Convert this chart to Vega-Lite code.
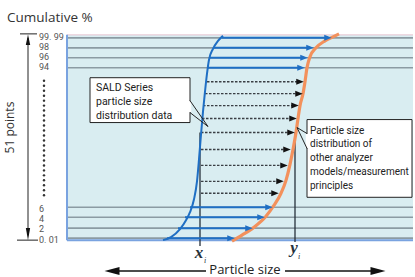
{
  "$schema": "https://vega.github.io/schema/vega-lite/v6.json",
  "width": 415,
  "height": 277,
  "autosize": {"type": "fit", "contains": "padding"},
  "padding": 0,
  "background": "white",
  "config": {"view": {"stroke": null}},
  "datasets": {
    "panel": [{"x": 67, "x2": 413, "y": 35, "y2": 241}],
    "grid": [
      {"x": 67, "x2": 413, "y": 38}, {"x": 67, "x2": 413, "y": 48}, {"x": 67, "x2": 413, "y": 58}, {"x": 67, "x2": 413, "y": 68},
      {"x": 67, "x2": 413, "y": 208}, {"x": 67, "x2": 413, "y": 218}, {"x": 67, "x2": 413, "y": 229}, {"x": 67, "x2": 413, "y": 239}
    ],
    "borderH": [{"x": 67, "x2": 413, "y": 241}],
    "borderTop": [{"x": 67, "x2": 413, "y": 35}],
    "borderV": [{"x": 67, "y": 35, "y2": 241}],
    "blue": [
      {"o": 1, "x": 163, "y": 241}, {"o": 2, "x": 171, "y": 238}, {"o": 3, "x": 180, "y": 230}, {"o": 4, "x": 186, "y": 221},
      {"o": 5, "x": 190, "y": 213}, {"o": 6, "x": 194, "y": 200}, {"o": 7, "x": 197, "y": 182}, {"o": 8, "x": 199, "y": 160},
      {"o": 9, "x": 201, "y": 135}, {"o": 10, "x": 203, "y": 112}, {"o": 11, "x": 205, "y": 92}, {"o": 12, "x": 207, "y": 74},
      {"o": 13, "x": 209, "y": 60}, {"o": 14, "x": 213, "y": 49}, {"o": 15, "x": 218, "y": 41}, {"o": 16, "x": 223, "y": 36}
    ],
    "orange": [
      {"o": 1, "x": 232, "y": 242}, {"o": 2, "x": 242, "y": 236}, {"o": 3, "x": 254, "y": 228}, {"o": 4, "x": 266, "y": 217},
      {"o": 5, "x": 274, "y": 206}, {"o": 6, "x": 281, "y": 194}, {"o": 7, "x": 286, "y": 181}, {"o": 8, "x": 290, "y": 165},
      {"o": 9, "x": 293, "y": 150}, {"o": 10, "x": 296, "y": 133}, {"o": 11, "x": 298, "y": 119}, {"o": 12, "x": 300, "y": 106},
      {"o": 13, "x": 303, "y": 94}, {"o": 14, "x": 305, "y": 82}, {"o": 15, "x": 307, "y": 68}, {"o": 16, "x": 310, "y": 57},
      {"o": 17, "x": 316, "y": 48}, {"o": 18, "x": 325, "y": 41}, {"o": 19, "x": 333, "y": 37}, {"o": 20, "x": 339, "y": 34}
    ],
    "blueArrows": [
      {"x": 222, "x2": 328, "y": 38}, {"x": 214, "x2": 310, "y": 48}, {"x": 210, "x2": 304, "y": 58}, {"x": 208, "x2": 301, "y": 68},
      {"x": 190, "x2": 269, "y": 208}, {"x": 185, "x2": 261, "y": 218}, {"x": 178, "x2": 249, "y": 229}, {"x": 167, "x2": 231, "y": 239}
    ],
    "dotArrows": [
      {"x": 207, "x2": 300, "y": 82}, {"x": 205, "x2": 299, "y": 94}, {"x": 203, "x2": 295, "y": 106}, {"x": 202, "x2": 293, "y": 119},
      {"x": 201, "x2": 291, "y": 133}, {"x": 201, "x2": 287, "y": 150}, {"x": 201, "x2": 284, "y": 166}, {"x": 201, "x2": 280, "y": 182},
      {"x": 201, "x2": 275, "y": 194}
    ],
    "vlines": [{"x": 200, "y": 133, "y2": 247}, {"x": 295, "y": 133, "y2": 243}],
    "dots": [
      {"x": 44, "y": 81}, {"x": 44, "y": 86}, {"x": 44, "y": 91}, {"x": 44, "y": 96}, {"x": 44, "y": 101}, {"x": 44, "y": 106},
      {"x": 44, "y": 111}, {"x": 44, "y": 116}, {"x": 44, "y": 121}, {"x": 44, "y": 126}, {"x": 44, "y": 131}, {"x": 44, "y": 136},
      {"x": 44, "y": 141}, {"x": 44, "y": 146}, {"x": 44, "y": 151}, {"x": 44, "y": 156}, {"x": 44, "y": 161}, {"x": 44, "y": 166},
      {"x": 44, "y": 171}, {"x": 44, "y": 176}, {"x": 44, "y": 181}, {"x": 44, "y": 186}, {"x": 44, "y": 191}, {"x": 44, "y": 196}
    ],
    "ylabels": [
      {"x": 39, "y": 37, "t": "99. 99"}, {"x": 39, "y": 47, "t": "98"}, {"x": 39, "y": 57, "t": "96"}, {"x": 39, "y": 67, "t": "94"},
      {"x": 39, "y": 210, "t": "6"}, {"x": 39, "y": 220, "t": "4"}, {"x": 39, "y": 230, "t": "2"}, {"x": 39, "y": 241, "t": "0. 01"}
    ],
    "leftLine": [{"x": 28, "y": 38, "y2": 236}],
    "leftTicks": [{"x": 20, "x2": 37, "y": 34}, {"x": 17, "x2": 38, "y": 241}],
    "headUp": [{"x": 28, "y": 40}],
    "headDown": [{"x": 28, "y": 235}],
    "bottomLine": [{"x": 112, "x2": 206, "y": 272}, {"x": 285, "x2": 378, "y": 272}],
    "headLeft": [{"x": 112, "y": 272}],
    "headRight": [{"x": 378, "y": 272}],
    "box1": [{"x": 90, "x2": 190, "y": 78, "y2": 123}],
    "box2": [{"x": 307, "x2": 412, "y": 120, "y2": 198}],
    "cover": [{"x": 190, "y": 101.5, "y2": 112.5}, {"x": 307, "y": 134.5, "y2": 148.5}],
    "ptr1": [{"o": 1, "x": 190, "y": 101}, {"o": 2, "x": 208, "y": 127}, {"o": 3, "x": 190, "y": 113}],
    "ptr2": [{"o": 1, "x": 307, "y": 134}, {"o": 2, "x": 297, "y": 128}, {"o": 3, "x": 307, "y": 149}],
    "box1text": [
      {"x": 96, "y": 88, "t": "SALD Series"}, {"x": 96, "y": 102, "t": "particle size"}, {"x": 96, "y": 116, "t": "distribution data"}
    ],
    "box2text": [
      {"x": 310, "y": 131, "t": "Particle size"}, {"x": 310, "y": 145, "t": "distribution of"}, {"x": 310, "y": 159, "t": "other analyzer"},
      {"x": 310, "y": 173, "t": "models/measurement"}, {"x": 310, "y": 187, "t": "principles"}
    ],
    "title": [{"x": 7, "y": 18, "t": "Cumulative %"}],
    "points51": [{"x": 10, "y": 128, "t": "51 points"}],
    "psize": [{"x": 245, "y": 271, "t": "Particle size"}],
    "xy": [{"x": 199, "y": 254, "t": "x"}, {"x": 294, "y": 249, "t": "y"}],
    "sub": [{"x": 205, "y": 262, "t": "i"}, {"x": 299, "y": 258, "t": "i"}]
  },
  "encoding": {
    "x": {"field": "x", "type": "quantitative", "scale": {"domain": [0, 415], "nice": false, "zero": false}, "axis": null},
    "y": {"field": "y", "type": "quantitative", "scale": {"domain": [0, 277], "nice": false, "zero": false, "reverse": true}, "axis": null}
  },
  "layer": [
    {"data": {"name": "panel"}, "mark": {"type": "rect", "color": "#d9edf1"}, "encoding": {"x2": {"field": "x2"}, "y2": {"field": "y2"}}},
    {"data": {"name": "grid"}, "mark": {"type": "rule", "color": "#8b9ba3", "strokeWidth": 1.6}, "encoding": {"x2": {"field": "x2"}}},
    {"data": {"name": "borderTop"}, "mark": {"type": "rule", "color": "#e9c6d2", "strokeWidth": 1}, "encoding": {"x2": {"field": "x2"}}},
    {"data": {"name": "borderH"}, "mark": {"type": "rule", "color": "#7aa3e0", "strokeWidth": 2}, "encoding": {"x2": {"field": "x2"}}},
    {"data": {"name": "borderV"}, "mark": {"type": "rule", "color": "#7aa3e0", "strokeWidth": 2}, "encoding": {"y2": {"field": "y2"}}},
    {"data": {"name": "vlines"}, "mark": {"type": "rule", "color": "#26313b", "strokeWidth": 1.3}, "encoding": {"y2": {"field": "y2"}}},
    {"data": {"name": "blueArrows"}, "mark": {"type": "rule", "color": "#1f6fc4", "strokeWidth": 2}, "encoding": {"x2": {"field": "x2"}}},
    {"data": {"name": "dotArrows"}, "mark": {"type": "rule", "color": "#3a3f44", "strokeWidth": 1.4, "strokeDash": [2.5, 1.5]}, "encoding": {"x2": {"field": "x2"}}},
    {"data": {"name": "blue"}, "mark": {"type": "line", "color": "#1f6fc4", "strokeWidth": 2, "interpolate": "monotone"}, "encoding": {"order": {"field": "o"}}},
    {"data": {"name": "orange"}, "mark": {"type": "line", "color": "#f3915c", "strokeWidth": 3.2, "interpolate": "monotone"}, "encoding": {"order": {"field": "o"}}},
    {"data": {"name": "blueArrows"}, "mark": {"type": "point", "shape": "M1,0L-1,-0.8L-1,0.8Z", "filled": true, "size": 56, "color": "#1f6fc4", "opacity": 1},
     "encoding": {"x": {"field": "x2", "type": "quantitative"}}},
    {"data": {"name": "dotArrows"}, "mark": {"type": "point", "shape": "M1,0L-1,-0.8L-1,0.8Z", "filled": true, "size": 56, "color": "#111111", "opacity": 1},
     "encoding": {"x": {"field": "x2", "type": "quantitative"}}},
    {"data": {"name": "dots"}, "mark": {"type": "point", "shape": "circle", "filled": true, "size": 6, "color": "#333333", "opacity": 1}, "encoding": {}},
    {"data": {"name": "ylabels"}, "mark": {"type": "text", "align": "left", "baseline": "middle", "font": "Roboto", "fontSize": 9, "color": "#555555"},
     "encoding": {"text": {"field": "t"}}},
    {"data": {"name": "leftLine"}, "mark": {"type": "rule", "color": "#222222", "strokeWidth": 1}, "encoding": {"y2": {"field": "y2"}}},
    {"data": {"name": "leftTicks"}, "mark": {"type": "rule", "color": "#222222", "strokeWidth": 1}, "encoding": {"x2": {"field": "x2"}}},
    {"data": {"name": "headUp"}, "mark": {"type": "point", "shape": "M0,-1L0.42,1L-0.42,1Z", "filled": true, "size": 110, "color": "#111111", "opacity": 1}, "encoding": {}},
    {"data": {"name": "headDown"}, "mark": {"type": "point", "shape": "M0,1L0.35,-1L-0.35,-1Z", "filled": true, "size": 150, "color": "#111111", "opacity": 1}, "encoding": {}},
    {"data": {"name": "bottomLine"}, "mark": {"type": "rule", "color": "#111111", "strokeWidth": 1.5}, "encoding": {"x2": {"field": "x2"}}},
    {"data": {"name": "headLeft"}, "mark": {"type": "point", "shape": "M-1,0L1,-0.52L1,0.52Z", "filled": true, "size": 225, "color": "#111111", "opacity": 1}, "encoding": {}},
    {"data": {"name": "headRight"}, "mark": {"type": "point", "shape": "M1,0L-1,-0.52L-1,0.52Z", "filled": true, "size": 225, "color": "#111111", "opacity": 1}, "encoding": {}},
    {"data": {"name": "box1"}, "mark": {"type": "rect", "fill": "white", "stroke": "#222222", "strokeWidth": 1}, "encoding": {"x2": {"field": "x2"}, "y2": {"field": "y2"}}},
    {"data": {"name": "box2"}, "mark": {"type": "rect", "fill": "white", "stroke": "#222222", "strokeWidth": 1}, "encoding": {"x2": {"field": "x2"}, "y2": {"field": "y2"}}},
    {"data": {"name": "cover"}, "mark": {"type": "rule", "color": "white", "strokeWidth": 2.5}, "encoding": {"y2": {"field": "y2"}}},
    {"data": {"name": "ptr1"}, "mark": {"type": "line", "color": "#222222", "strokeWidth": 1}, "encoding": {"order": {"field": "o"}}},
    {"data": {"name": "ptr2"}, "mark": {"type": "line", "color": "#222222", "strokeWidth": 1}, "encoding": {"order": {"field": "o"}}},
    {"data": {"name": "box1text"}, "mark": {"type": "text", "align": "left", "baseline": "middle", "font": "Roboto", "fontSize": 10.5, "color": "#222222"},
     "encoding": {"text": {"field": "t"}}},
    {"data": {"name": "box2text"}, "mark": {"type": "text", "align": "left", "baseline": "middle", "font": "Roboto", "fontSize": 10, "color": "#222222"},
     "encoding": {"text": {"field": "t"}}},
    {"data": {"name": "title"}, "mark": {"type": "text", "align": "left", "baseline": "middle", "font": "Open Sans", "fontSize": 13.5, "color": "#333333"},
     "encoding": {"text": {"field": "t"}}},
    {"data": {"name": "points51"}, "mark": {"type": "text", "align": "center", "baseline": "middle", "angle": 270, "font": "Open Sans", "fontSize": 12, "color": "#333333"},
     "encoding": {"text": {"field": "t"}}},
    {"data": {"name": "psize"}, "mark": {"type": "text", "align": "center", "baseline": "middle", "font": "Open Sans", "fontSize": 13, "color": "#222222"},
     "encoding": {"text": {"field": "t"}}},
    {"data": {"name": "xy"}, "mark": {"type": "text", "align": "center", "baseline": "middle", "font": "Liberation Serif", "fontStyle": "italic", "fontWeight": "bold", "fontSize": 17, "color": "#26313b"},
     "encoding": {"text": {"field": "t"}}},
    {"data": {"name": "sub"}, "mark": {"type": "text", "align": "center", "baseline": "middle", "font": "Liberation Serif", "fontStyle": "italic", "fontSize": 8, "color": "#26313b"},
     "encoding": {"text": {"field": "t"}}}
  ]
}
